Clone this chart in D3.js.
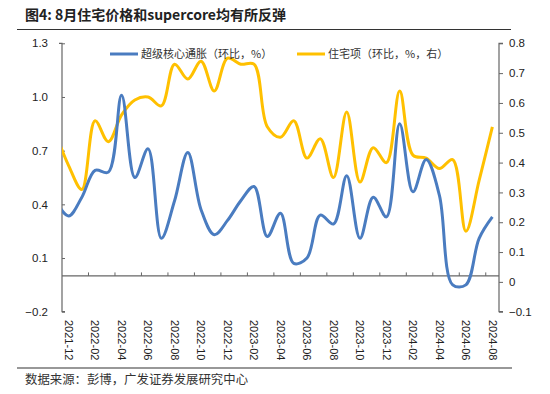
<!DOCTYPE html>
<html>
<head>
<meta charset="utf-8">
<script src="https://cdn.jsdelivr.net/npm/d3@7"></script>
<style>
  body { margin: 0; background: #fff; }
  svg { display: block; }
  .tick text { font-family: "Liberation Sans", Arial, sans-serif; font-size: 11.5px; fill: #222; }
  .cjk { font-family: "Noto Sans CJK SC", sans-serif; }
</style>
</head>
<body>
<svg class="chart" width="550" height="394"></svg>
<script>
// months (2021-11 sits left of the axis and is clipped, like the original)
const months = ["2021-11","2021-12","2022-01","2022-02","2022-03","2022-04","2022-05","2022-06","2022-07",
  "2022-08","2022-09","2022-10","2022-11","2022-12","2023-01","2023-02","2023-03","2023-04","2023-05",
  "2023-06","2023-07","2023-08","2023-09","2023-10","2023-11","2023-12","2024-01","2024-02","2024-03",
  "2024-04","2024-05","2024-06","2024-07","2024-08"];
// supercore m/m, %, left axis
const supercore = [0.42, 0.335, 0.44, 0.59, 0.58, 1.01, 0.55, 0.71, 0.21, 0.42, 0.69, 0.37, 0.23, 0.31,
  0.42, 0.50, 0.22, 0.35, 0.07, 0.10, 0.34, 0.29, 0.56, 0.21, 0.44, 0.33, 0.85, 0.47, 0.65, 0.45,
  -0.05, -0.05, 0.21, 0.33];
// shelter m/m, %, right axis
const housing = [0.50, 0.39, 0.31, 0.54, 0.47, 0.56, 0.61, 0.62, 0.59, 0.73, 0.68, 0.74, 0.64, 0.75,
  0.73, 0.73, 0.52, 0.485, 0.54, 0.415, 0.48, 0.35, 0.57, 0.335, 0.45, 0.40, 0.64, 0.425, 0.415,
  0.38, 0.41, 0.17, 0.34, 0.52];
const leftTicks = [-0.2, 0.1, 0.4, 0.7, 1.0, 1.3];
const rightTicks = [-0.1, 0, 0.1, 0.2, 0.3, 0.4, 0.5, 0.6, 0.7, 0.8];
const seriesNames = ["超级核心通胀（环比，%）", "住宅项（环比，%，右）"];
const colors = ["#4a7cc0", "#ffc000"];

const svg = d3.select("svg.chart");
const plot = { left: 62, right: 499, top: 43.3, bottom: 311.7 };

const shown = months.slice(1);
const xBand = d3.scaleBand().domain(shown).range([plot.left, plot.right]);
const xIdx = d3.scaleLinear().domain([-0.5, shown.length - 0.5]).range([plot.left, plot.right]);
const yL = d3.scaleLinear().domain([-0.2, 1.3]).range([plot.bottom, plot.top]);
const yR = d3.scaleLinear().domain([-0.1, 0.8]).range([plot.bottom, plot.top]);

// title + rules
svg.append("text").attr("class", "cjk")
    .attr("x", 25).attr("y", 20)
    .attr("font-size", 14).attr("font-weight", "bold").attr("fill", "#222")
    .text("图4:  8月住宅价格和supercore均有所反弹");
svg.append("line").attr("x1", 17).attr("x2", 511).attr("y1", 29.5).attr("y2", 29.5)
    .attr("stroke", "#333").attr("stroke-width", 1.2);
svg.append("line").attr("x1", 17).attr("x2", 512).attr("y1", 368).attr("y2", 368)
    .attr("stroke", "#333").attr("stroke-width", 1.2);
svg.append("text").attr("class", "cjk")
    .attr("x", 25).attr("y", 384)
    .attr("font-size", 12.4).attr("fill", "#333")
    .text("数据来源：彭博，广发证券发展研究中心");

// axes
const gL = svg.append("g").attr("transform", `translate(${plot.left},0)`)
    .call(d3.axisLeft(yL).tickValues(leftTicks).tickSize(-3).tickPadding(14).tickFormat(d3.format(".1f")));
const gR = svg.append("g").attr("transform", `translate(${plot.right},0)`)
    .call(d3.axisRight(yR).tickValues(rightTicks).tickSize(4).tickPadding(6)
      .tickFormat(d => d === 0 ? "0" : d3.format(".1f")(d)));
[gL, gR].forEach(g => {
    g.select(".domain").attr("stroke", "#666").attr("stroke-width", 1.2);
    g.selectAll(".tick line").attr("stroke", "#666");
});
gL.select(".domain").attr("d", `M-3,${plot.top}H0V${plot.bottom}H3`);
gR.select(".domain").attr("d", `M4,${plot.top}H0V${plot.bottom}H4`);

// x axis on left zero
const y0 = yL(0);
svg.append("line").attr("x1", plot.left).attr("x2", plot.right).attr("y1", y0).attr("y2", y0)
    .attr("stroke", "#666").attr("stroke-width", 1.2);
svg.append("g").selectAll("line")
    .data(shown.filter((d, i) => i % 2 === 1 && i < shown.length - 1))
    .enter().append("line")
    .attr("x1", d => xBand(d) + xBand.bandwidth()).attr("x2", d => xBand(d) + xBand.bandwidth())
    .attr("y1", y0 - 3.5).attr("y2", y0)
    .attr("stroke", "#666");
svg.append("g").selectAll("text")
    .data(shown.filter((d, i) => i % 2 === 0))
    .enter().append("text")
    .attr("transform", d => `translate(${xBand(d) + xBand.bandwidth() / 2},320) rotate(90)`)
    .attr("dy", "0.35em")
    .attr("font-family", "Liberation Sans, Arial, sans-serif")
    .attr("font-size", 11).attr("fill", "#222")
    .text(d => d);

// lines
svg.append("clipPath").attr("id", "clip").append("rect")
    .attr("x", plot.left).attr("y", plot.top - 10)
    .attr("width", plot.right - plot.left).attr("height", plot.bottom - plot.top + 20);

const lineL = d3.line().x((d, i) => xIdx(i - 1)).y(d => yL(d)).curve(d3.curveCatmullRom.alpha(0.5));
const lineR = d3.line().x((d, i) => xIdx(i - 1)).y(d => yR(d)).curve(d3.curveCatmullRom.alpha(0.5));

const lines = svg.append("g").attr("clip-path", "url(#clip)");
lines.append("path").datum(housing).attr("d", lineR)
    .attr("fill", "none").attr("stroke", colors[1]).attr("stroke-width", 3);
lines.append("path").datum(supercore).attr("d", lineL)
    .attr("fill", "none").attr("stroke", colors[0]).attr("stroke-width", 3);

// legend
const legend = [{ x: 110, name: seriesNames[0], c: colors[0] }, { x: 297, name: seriesNames[1], c: colors[1] }];
const lg = svg.append("g").selectAll("g").data(legend).enter().append("g")
    .attr("transform", d => `translate(${d.x},54)`);
lg.append("line").attr("x1", 0).attr("x2", 28).attr("stroke", d => d.c).attr("stroke-width", 3);
lg.append("text").attr("class", "cjk").attr("x", 31).attr("dy", "0.35em")
    .attr("font-size", 11).attr("fill", "#333").text(d => d.name);
</script>
</body>
</html>
